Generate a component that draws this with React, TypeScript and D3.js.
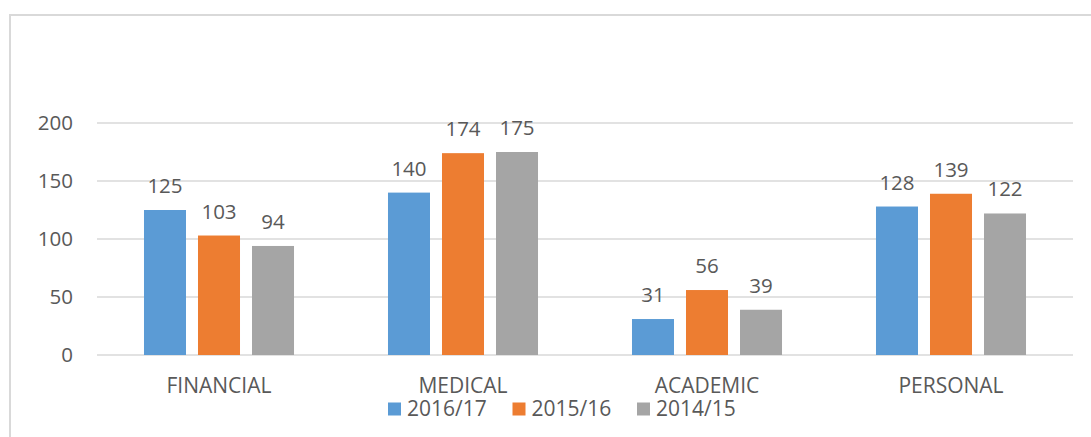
import React from "react";
import * as d3 from "d3";

const categories = ["FINANCIAL", "MEDICAL", "ACADEMIC", "PERSONAL"];
const seriesNames = ["2016/17", "2015/16", "2014/15"];
const values2016 = [125, 140, 31, 128];
const values2015 = [103, 174, 56, 139];
const values2014 = [94, 175, 39, 122];
const yTicks = [0, 50, 100, 150, 200];
const colors = ["#5b9bd5", "#ed7d31", "#a5a5a5"];

const W = 1091;
const H = 437;
const FONT = "'Open Sans', 'Noto Sans', sans-serif";
const TEXT = "#595959";
const GRID = "#d9d9d9";

export default function App() {
  const seriesValues = [values2016, values2015, values2014];
  const x = d3.scaleBand<string>().domain(categories).range([97, 1073]).paddingInner(0).paddingOuter(0);
  const xs = d3
    .scaleBand<string>()
    .domain(seriesNames)
    .range([0, x.bandwidth()])
    .paddingInner(0.2222)
    .paddingOuter(0.87);
  const y = d3.scaleLinear().domain([0, 200]).range([355, 123]);

  return (
    <svg
      width={W}
      height={H}
      style={{ position: "absolute", left: 0, top: 0, background: "#fff" }}
      fontFamily={FONT}
    >
      <rect x={0} y={0} width={W} height={H} fill="#fff" />
      {/* chart border */}
      <line x1={10} x2={W} y1={15} y2={15} stroke={GRID} strokeWidth={2} />
      <line x1={10} x2={10} y1={14} y2={H} stroke={GRID} strokeWidth={2} />

      {yTicks.map((t) => (
        <g key={t}>
          <line x1={97} x2={1073} y1={y(t)} y2={y(t)} stroke={GRID} strokeWidth={1.5} />
          <text x={73} y={y(t)} dy="0.36em" textAnchor="end" fontSize={20.5} fill={TEXT}>
            {t}
          </text>
        </g>
      ))}

      {categories.map((c, ci) => (
        <g key={c} transform={`translate(${x(c)},0)`}>
          {seriesNames.map((s, si) => {
            const v = seriesValues[si][ci];
            const bx = xs(s)!;
            return (
              <g key={s}>
                <rect x={bx} y={y(v)} width={xs.bandwidth()} height={y(0) - y(v)} fill={colors[si]} />
                <text
                  x={bx + xs.bandwidth() / 2}
                  y={y(v) - 17}
                  textAnchor="middle"
                  fontSize={20.5}
                  fill={TEXT}
                >
                  {v}
                </text>
              </g>
            );
          })}
          <text x={x.bandwidth() / 2} y={393} textAnchor="middle" fontSize={21} fill={TEXT}>
            {c}
          </text>
        </g>
      ))}

      {seriesNames.map((s, si) => {
        const lx = 388 + si * 124.5;
        return (
          <g key={s}>
            <rect x={lx} y={402.5} width={13} height={13} fill={colors[si]} />
            <text x={lx + 19} y={416} fontSize={21} fill={TEXT}>
              {s}
            </text>
          </g>
        );
      })}
    </svg>
  );
}
